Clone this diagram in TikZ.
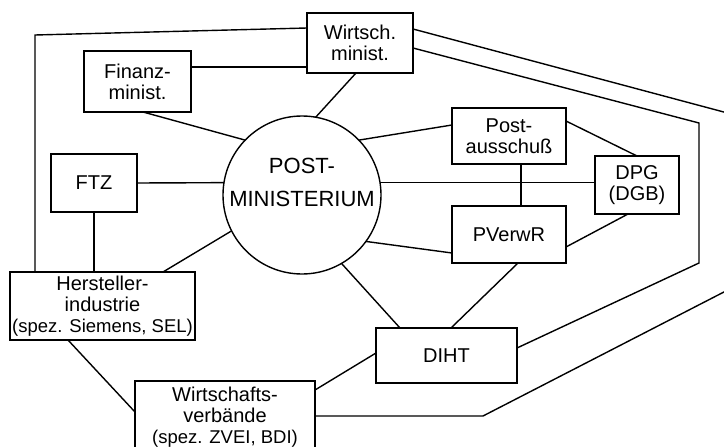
\documentclass[tikz,border=0pt]{standalone}
\usepackage{fontspec}
\setmainfont{Liberation Sans}
\usetikzlibrary{calc}
\begin{document}
\begin{tikzpicture}[x=1pt,y=-1pt,
  line width=1.4pt,
  every node/.style={inner sep=0pt, outer sep=0pt},
  box/.style={draw, rectangle, align=center, font=\fontsize{20}{21}\selectfont},
  hub/.style={draw, circle, minimum size=158pt}]
\useasboundingbox (0,0) rectangle (724,447);
\clip (0,0) rectangle (724,447);

% institutions
\node[box, minimum width=106pt, minimum height=60pt] (wm) at (360,43) {Wirtsch.\\minist.};
\node[box, minimum width=107pt, minimum height=61pt] (fm) at (137.5,81.5) {Finanz-\\minist.};
\node[box, minimum width=86pt, minimum height=58pt] (ftz) at (94,183) {FTZ};
\node[hub] (pm) at (302,195) {};
\node[align=center, font=\fontsize{22}{33}\selectfont] (pmtext) at (302,182) {POST-\\MINISTERIUM};
\node[box, minimum width=114pt, minimum height=56pt] (pa) at (509,136) {Post-\\ausschuß};
\node[box, minimum width=84pt, minimum height=58pt] (dpg) at (637,185) {DPG\\(DGB)};
\node[box, minimum width=114pt, minimum height=57pt] (pv) at (509,234.5) {PVerwR};
\node[box, minimum width=141pt, minimum height=55pt] (diht) at (446.5,355.5) {DIHT};
\node[box, minimum width=185pt, minimum height=68pt] (hi) at (102.5,306)
  {Hersteller-\\industrie\\{\fontsize{18.5}{21}\selectfont (spez. Siemens, SEL)}};
\node[box, minimum width=180pt, minimum height=72pt] (wv) at (225,417)
  {Wirtschafts-\\verbände\\{\fontsize{18.5}{21}\selectfont (spez. ZVEI, BDI)}};

% links around the ministry
\draw ([yshift=14.5pt]fm.east) coordinate (f1) -- (f1 -| wm.west);
\draw ([xshift=5.5pt]fm.south) -- (pm.136.5);
\draw ([xshift=-4pt]wm.south) -- (pm.80.7);
\draw (ftz.east) -- (pm.171);
\draw (ftz.south) -- (ftz.south |- hi.north);
\draw ([xshift=60.5pt]hi.north) -- (pm.207.8);
\draw ([xshift=-34.5pt]hi.south) -- ([yshift=5pt]wv.west);
\draw ([yshift=27pt]wv.east) -- ([yshift=2.5pt]diht.west);
\draw (pm.300.7) -- ([xshift=-46.5pt]diht.north);
\draw ([xshift=9pt]pv.south) -- ([xshift=4.5pt]diht.north);
\draw (pm.-36.9) -- ([yshift=-18.5pt]pv.west);
\draw (pm.44.5) -- ([yshift=11pt]pa.west);
\draw (pm.9) coordinate (p9) -- (p9 -| dpg.west);
\draw ([xshift=12pt]pa.south) coordinate (s1) -- (s1 |- pv.north);
\draw ([yshift=15pt]pa.east) -- (dpg.north);
\draw ([xshift=-9pt]dpg.south) -- ([yshift=-12.5pt]pv.east);

% outer connections
\coordinate (c1) at (35,35);
\draw ([yshift=15pt]wm.west) -- (c1) -- (c1 |- hi.north);
\coordinate (c2) at (735,115);
\coordinate (c3) at (735,286.3);
\coordinate (c4) at (483,416);
\draw ([yshift=14pt]wm.east) -- (c2) -- (c3) -- (c4) -- (c4 -| wv.east);
\coordinate (c5) at (699,123);
\coordinate (c6) at (699,263);
\draw ([yshift=-5pt]wm.east) -- (c5) -- (c6) -- ([yshift=7.5pt]diht.east);
\end{tikzpicture}
\end{document}
